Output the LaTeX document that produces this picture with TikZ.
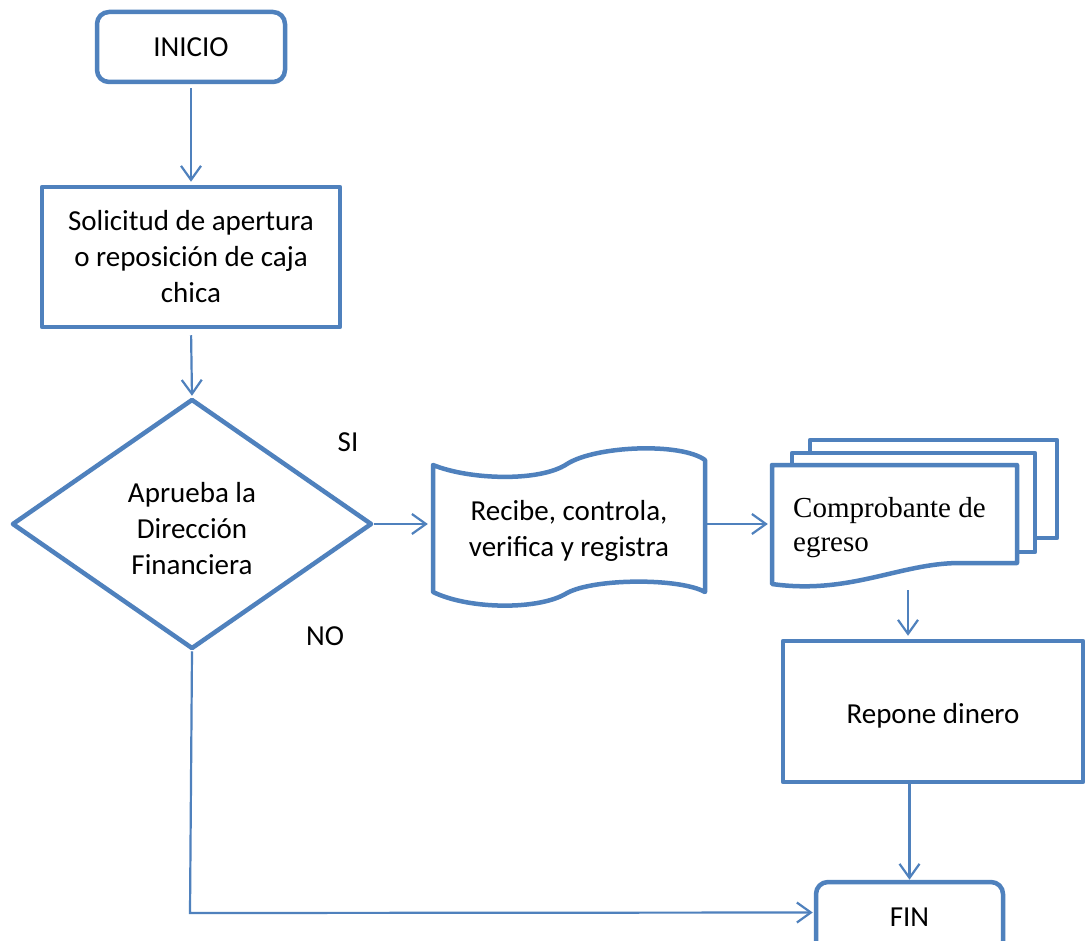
\documentclass[tikz,border=0pt]{standalone}
\usepackage{fontspec}
\setmainfont{Carlito}
\newfontfamily\docfont{Liberation Serif}
\usetikzlibrary{arrows.meta,shapes.geometric}
\definecolor{edge}{HTML}{4F81BD}
% lower the content of a box without changing its size
\newcommand{\lowered}[2]{\raisebox{-#1}[\height][\depth]{#2}}
\begin{document}
\begin{tikzpicture}[x=1pt,y=-1pt,
  bx/.style={draw=edge,line width=4.5pt,fill=white,line join=round},
  label/.style={font=\fontsize{29}{36}\selectfont,align=center,inner sep=0pt},
  termbox/.style={bx,label,rounded corners=12pt,minimum width=188pt,minimum height=70pt},
  procbox/.style={bx,label},
  decbox/.style={bx,label,diamond,minimum width=360pt,minimum height=250pt},
  link/.style={draw=edge,line width=2.2pt,-{Straight Barb[length=14pt,width=20pt]}}]
\clip (0,0) rectangle (1086,941);
\fill[white] (0,0) rectangle (1086,941);

% start, request and decision
\node[termbox] (ini) at (191,47) {INICIO};
\node[procbox,minimum width=298pt,minimum height=140pt] (sol) at (191,257)
  {Solicitud de apertura\\o reposición de caja\\chica};
\node[decbox] (dec) at (192,524)
  {\lowered{7pt}{\begin{tabular}{@{}c@{}}Aprueba la\\Dirección\\Financiera\end{tabular}}};
\node[label] (si) at (348,442) {SI};
\node[label] (no) at (325,636) {NO};

% punched tape
\draw[bx] (433,465) .. controls (470,480) and (540,482) .. (567,464)
  .. controls (595,446) and (680,442) .. (705,460) -- (705,592)
  .. controls (680,578) and (595,578) .. (567,593)
  .. controls (540,610) and (470,610) .. (433,592) -- cycle;
\node[label,minimum width=272pt,minimum height=128pt] (tape) at (569,524)
  {\lowered{7pt}{\begin{tabular}{@{}c@{}}Recibe, controla,\\verifica y registra\end{tabular}}};

% stacked documents
\draw[bx] (810,440) rectangle (1057,538);
\draw[bx] (792,453) rectangle (1035,552);
\draw[bx] (772,465) -- (1017,465) -- (1017,563) -- (960,563)
  .. controls (900,563) and (850,595) .. (772,584) -- cycle;
\node[inner sep=0pt,minimum width=245pt,minimum height=118pt] (doc) at (894.5,524) {};
\node[anchor=base west,inner sep=0pt,align=left,
  font=\docfont\fontsize{29}{34}\selectfont] (doctext) at (793,551)
  {Comprobante de\\egreso};

% refill and end
\node[procbox,minimum width=300pt,minimum height=141pt] (rep) at (933,711.5)
  {\lowered{4pt}{Repone dinero}};
\node[termbox,minimum width=187pt,minimum height=71pt] (fin) at (909.5,917.5) {FIN};

% connectors
\draw[link,shorten <=4pt,shorten >=3pt] (ini) -- (sol);
\draw[link,shorten <=6pt,shorten >=1pt] (sol.south) -- (dec.north);
\draw[link,shorten >=5pt] (dec.east) -- (tape.west);
\draw[link,shorten >=4pt] (tape.east) -- (doc.west);
\draw[link,shorten <=7pt,shorten >=3pt] ([xshift=13.5pt]doc.south) -- ([xshift=13.5pt]doc.south |- rep.north);
\draw[link] (rep.south -| fin.north) -- (fin.north);
\coordinate (turn) at (190,913);
\draw[link,shorten >=1pt] (dec.south) -- (turn) -- ([yshift=5pt]fin.west);
\end{tikzpicture}
\end{document}
